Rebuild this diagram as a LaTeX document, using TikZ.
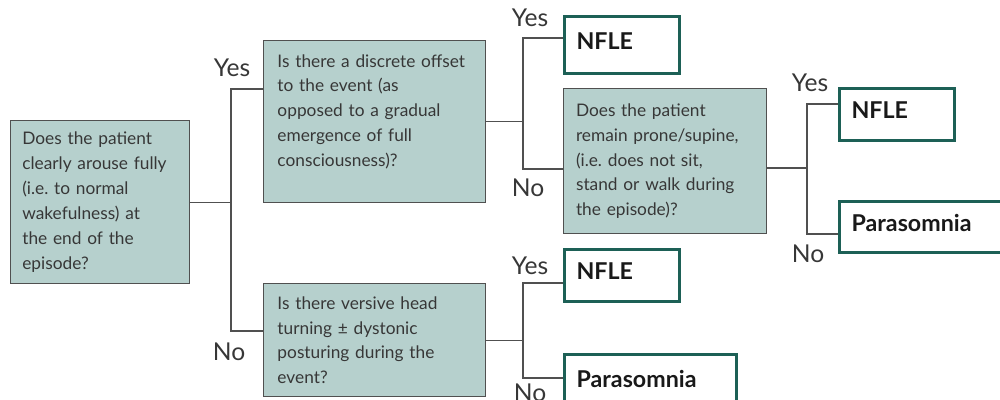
\documentclass[tikz,border=0pt]{standalone}
\usepackage{fontspec}
\setmainfont{Lato}
\frenchspacing
\definecolor{qfill}{RGB}{182,208,205}
\definecolor{qline}{RGB}{80,80,80}
\definecolor{oline}{RGB}{29,96,86}
\definecolor{qtext}{RGB}{55,55,55}
\begin{document}
\begin{tikzpicture}[x=0.025cm,y=-0.025cm,
  qbox/.style={draw=qline, line width=1pt, fill=qfill, anchor=north west,
    inner ysep=0pt, align=left, text=qtext,
    font=\fontsize{12.3}{17.7}\selectfont},
  obox/.style={draw=oline, line width=2pt, fill=white, anchor=north west,
    inner xsep=8.5pt, inner ysep=0pt, align=left, text=black!90,
    text height=11.5pt, text depth=5.5pt,
    font=\bfseries\fontsize{16.5}{18}\selectfont},
  lab/.style={anchor=base, inner sep=0pt, text=qtext,
    font=\fontsize{17.5}{18}\selectfont},
  conn/.style={draw=qline, line width=0.9pt}]
\useasboundingbox (0,0) rectangle (1000,400);

% question boxes
\node[qbox, inner xsep=8pt, text width=110.8pt, minimum width=4.475cm, minimum height=4.075cm]
  (q1) at (10,120) {Does the patient\\clearly arouse fully\\(i.e. to normal\\wakefulness) at\\the end of the\\episode?};
\node[qbox, inner xsep=9.5pt, text width=138.3pt, minimum width=5.55cm, minimum height=4.05cm]
  (q2) at (263,40) {Is there a discrete offset\\to the event (as\\opposed to a gradual\\emergence of full\\consciousness)?\rule[-16pt]{0pt}{16pt}};
\node[qbox, inner xsep=9.5pt, text width=138.3pt, minimum width=5.55cm, minimum height=2.825cm]
  (q3) at (263,283) {Is there versive head\\turning ± dystonic\\posturing during the\\event?};
\node[qbox, inner xsep=8.5pt, text width=126.9pt, minimum width=5.075cm, minimum height=3.625cm]
  (q4) at (563,88) {Does the patient\\remain prone/supine,\\(i.e. does not sit,\\stand or walk during\\the episode)?};

% outcome boxes
\node[obox, text width=64.5pt, minimum width=2.875cm, minimum height=1.425cm] (o1) at (563,15) {NFLE};
\node[obox, text width=64.5pt, minimum width=2.875cm, minimum height=1.3cm] (o2) at (838,87) {NFLE};
\node[obox, text width=104.9pt, minimum width=4.3cm, minimum height=1.275cm] (o3) at (838,200) {Parasomnia};
\node[obox, text width=64.5pt, minimum width=2.875cm, minimum height=1.3cm] (o4) at (563,248) {NFLE};
\node[obox, text width=104.9pt, minimum width=4.3cm, minimum height=1.425cm] (o5) at (563,353) {Parasomnia};

% junctions
\coordinate (j1t) at (231,89);  \coordinate (j1b) at (231,331);
\coordinate (j2t) at (523,38);  \coordinate (j2b) at (523,169);
\coordinate (j3m) at (807,168); \coordinate (j3t) at (807,104); \coordinate (j3b) at (807,234);
\coordinate (j4t) at (523,283); \coordinate (j4b) at (523,378);

\draw[conn] (q1.east) -- (q1.east -| j1t);
\draw[conn] (q2.west |- j1t) -- (j1t) -- (j1b) -- (q3.west |- j1b);
\draw[conn] (q2.east) -- (q2.east -| j2t);
\draw[conn] (o1.west |- j2t) -- (j2t) -- (j2b) -- (q4.west |- j2b);
\draw[conn] (q4.east |- j3m) -- (j3m);
\draw[conn] (o2.west |- j3t) -- (j3t) -- (j3b) -- (o3.west |- j3b);
\draw[conn] (q3.east) -- (q3.east -| j4t);
\draw[conn] (o4.west |- j4t) -- (j4t) -- (j4b) -- (o5.west |- j4b);

% labels
\node[lab] (y1) at (232,77) {Yes};
\node[lab] (n1) at (229,360) {No};
\node[lab] (y2) at (530,27) {Yes};
\node[lab] (n2) at (528,197) {No};
\node[lab] (y3) at (810,92) {Yes};
\node[lab] (n3) at (808,262) {No};
\node[lab] (y4) at (530,275) {Yes};
\node[lab] (n4) at (530,401) {No};
\end{tikzpicture}
\end{document}
